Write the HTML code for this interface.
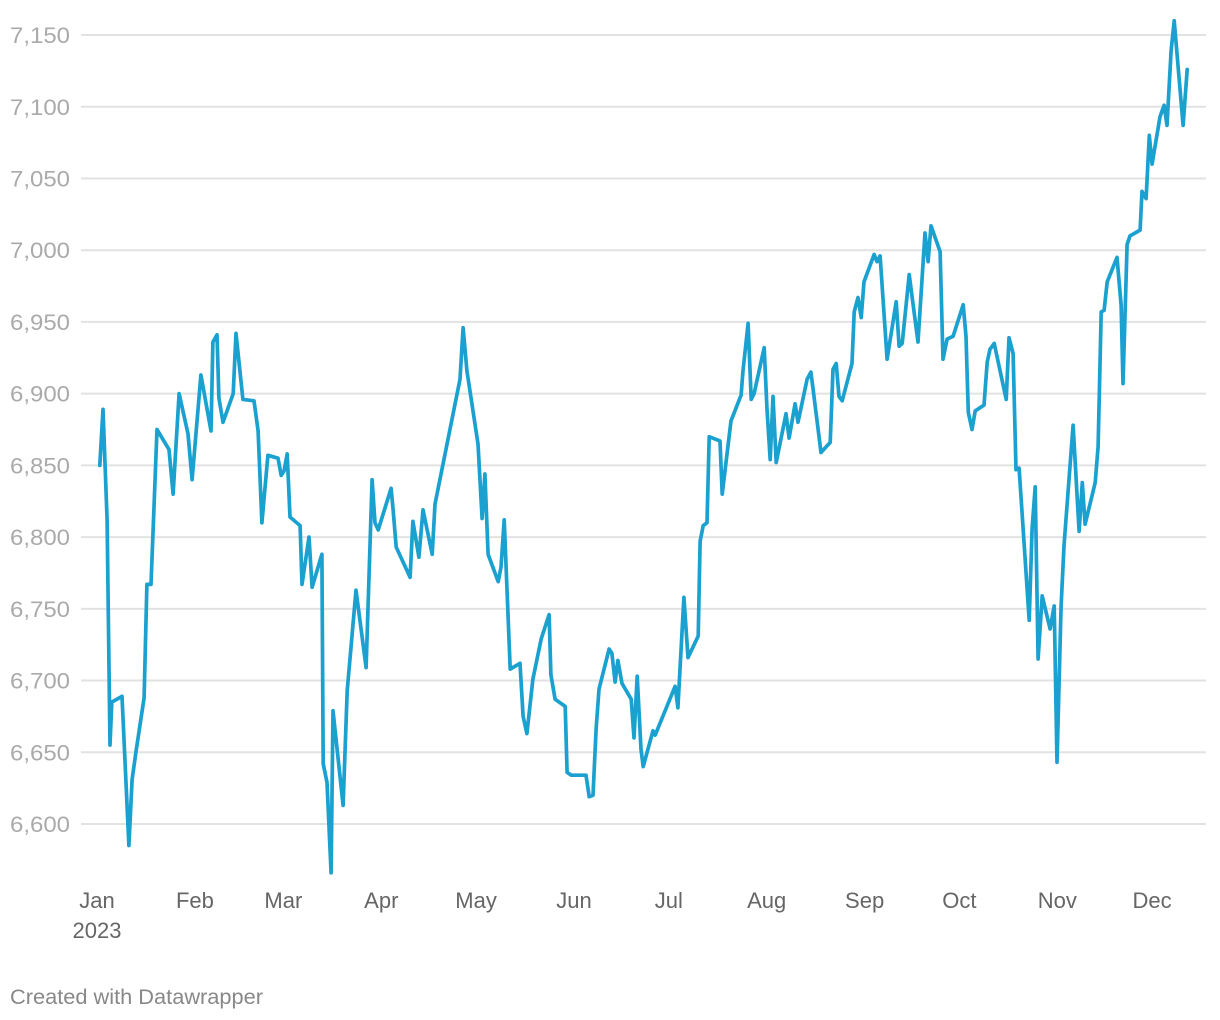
<!DOCTYPE html>
<html><head><meta charset="utf-8">
<style>
html,body{margin:0;padding:0;background:#fff;}
body{width:1220px;height:1020px;overflow:hidden;font-family:"Liberation Sans",Arial,sans-serif;}
svg{display:block;}
</style></head>
<body>
<svg id="chart" width="1220" height="1020" xmlns="http://www.w3.org/2000/svg">
<g id="grid"></g>
<g id="ylabels"></g>
<g id="xlabels"></g>
<path id="line" fill="none" stroke="#1aa1cf" stroke-width="3.7" stroke-linejoin="round" stroke-linecap="round"></path>
<text x="10" y="1004" font-size="21" fill="#888" textLength="253" lengthAdjust="spacingAndGlyphs">Created with Datawrapper</text>
</svg>
<script>
const days = [0.9,1.9,3.2,4.1,4.7,7.9,10.1,11.1,12.3,14.9,15.8,17.1,19.0,22.8,24.1,26.0,28.8,30.1,32.9,36.1,36.7,38.0,38.6,39.9,43.1,44.0,46.2,49.7,51.0,52.2,54.1,57.3,58.3,59.2,60.2,61.1,64.3,64.9,67.1,68.1,71.2,71.6,72.8,74.1,74.7,77.9,79.2,82.0,85.2,87.1,88.0,89.0,93.1,93.7,94.7,99.1,100.0,101.9,103.2,106.1,107.0,114.9,115.9,117.1,120.6,121.9,122.8,123.8,127.0,127.9,128.9,130.8,133.9,134.9,136.1,138.0,140.6,143.1,143.7,145.0,148.2,148.8,150.1,154.8,155.8,157.0,158.0,158.9,162.1,163.0,164.0,164.9,166.2,169.1,170.0,171.0,172.2,172.9,176.0,176.7,183.0,183.9,185.8,187.1,190.3,190.9,191.9,193.1,193.8,197.2,197.9,200.7,203.9,204.5,206.1,207.1,208.0,211.2,212.1,213.1,214.0,215.0,218.1,219.1,221.0,221.9,224.8,226.0,226.7,229.2,232.1,233.0,234.0,234.9,235.9,239.0,239.7,240.9,241.9,242.8,246.0,246.9,247.9,250.1,253.0,253.9,254.9,257.1,259.9,262.1,263.1,264.0,266.9,267.8,269.1,271.0,274.2,275.1,275.8,277.0,278.0,280.8,281.8,282.7,284.0,287.8,288.7,290.0,290.9,291.9,295.1,296.0,297.0,297.9,299.2,301.7,303.0,303.9,305.2,306.1,309.0,310.9,311.9,312.8,316.0,316.9,317.9,318.8,319.8,322.9,324.2,324.8,326.1,327.0,330.2,330.8,332.1,333.1,334.0,336.5,337.8,338.7,340.0,341.0,343.8,345.1];
const values = [6850,6889,6812,6655,6685,6689,6585,6631,6650,6688,6767,6767,6875,6861,6830,6900,6872,6840,6913,6874,6936,6941,6897,6880,6900,6942,6896,6895,6874,6810,6857,6855,6843,6846,6858,6814,6808,6767,6800,6765,6788,6642,6629,6566,6679,6613,6693,6763,6709,6840,6810,6805,6834,6820,6793,6772,6811,6786,6819,6788,6823,6910,6946,6916,6865,6813,6844,6788,6769,6779,6812,6708,6712,6675,6663,6701,6729,6746,6704,6687,6682,6636,6634,6634,6619,6620,6666,6694,6722,6719,6699,6714,6698,6687,6660,6703,6652,6640,6665,6662,6696,6681,6758,6716,6731,6797,6808,6810,6870,6867,6830,6881,6899,6916,6949,6896,6900,6932,6889,6854,6898,6852,6886,6869,6893,6880,6910,6915,6903,6859,6866,6917,6921,6898,6895,6921,6957,6967,6953,6978,6997,6992,6996,6924,6964,6933,6935,6983,6936,7012,6992,7017,6999,6924,6938,6940,6962,6940,6887,6875,6888,6892,6922,6931,6935,6896,6939,6928,6847,6848,6742,6806,6835,6715,6759,6736,6752,6643,6752,6794,6878,6804,6838,6809,6838,6863,6957,6958,6978,6995,6962,6907,7004,7010,7014,7041,7036,7080,7060,7093,7101,7087,7139,7160,7087,7126];
const yTicks = [6600,6650,6700,6750,6800,6850,6900,6950,7000,7050,7100,7150];
const monthLabels = ["Jan","Feb","Mar","Apr","May","Jun","Jul","Aug","Sep","Oct","Nov","Dec"];
const monthDays = [0,31,59,90,120,151,181,212,243,273,304,334];

const NS = "http://www.w3.org/2000/svg";
function xScale(d){ return 97 + d * 3.159; }
function yScale(v){ return 824 - (v - 6600) * 1.4345; }

const grid = document.getElementById('grid');
const yl = document.getElementById('ylabels');
yTicks.forEach(t => {
  const y = yScale(t);
  const ln = document.createElementNS(NS,'line');
  
  
  ln.setAttribute('x1', 81); ln.setAttribute('x2', 1206);
  ln.setAttribute('y1', y); ln.setAttribute('y2', y);
  ln.setAttribute('stroke', '#e2e2e2'); ln.setAttribute('stroke-width', 2);
  grid.appendChild(ln);
  const tx = document.createElementNS(NS,'text');
  
  
  tx.setAttribute('x', 10); tx.setAttribute('y', y + 8);
  tx.setAttribute('font-size', 22); tx.setAttribute('fill', '#aaa');
  tx.setAttribute('textLength', 60); tx.setAttribute('lengthAdjust', 'spacingAndGlyphs');
  tx.textContent = t.toLocaleString('en-US');
  yl.appendChild(tx);
});

const xl = document.getElementById('xlabels');
monthLabels.forEach((m,i) => {
  const tx = document.createElementNS(NS,'text');
  
  
  tx.setAttribute('x', xScale(monthDays[i])); tx.setAttribute('y', 908);
  tx.setAttribute('font-size', 22); tx.setAttribute('fill', '#666');
  tx.setAttribute('text-anchor', 'middle');
  tx.textContent = m;
  xl.appendChild(tx);
});
const yr = document.createElementNS(NS,'text');


yr.setAttribute('x', xScale(0)); yr.setAttribute('y', 938);
yr.setAttribute('font-size', 22); yr.setAttribute('fill', '#666');
yr.setAttribute('text-anchor', 'middle');
yr.textContent = '2023';
xl.appendChild(yr);

let d = '';
days.forEach((dd,i) => { d += (i ? 'L' : 'M') + xScale(dd).toFixed(1) + ',' + yScale(values[i]).toFixed(1); });
document.getElementById('line').setAttribute('d', d);
</script>
</body></html>
